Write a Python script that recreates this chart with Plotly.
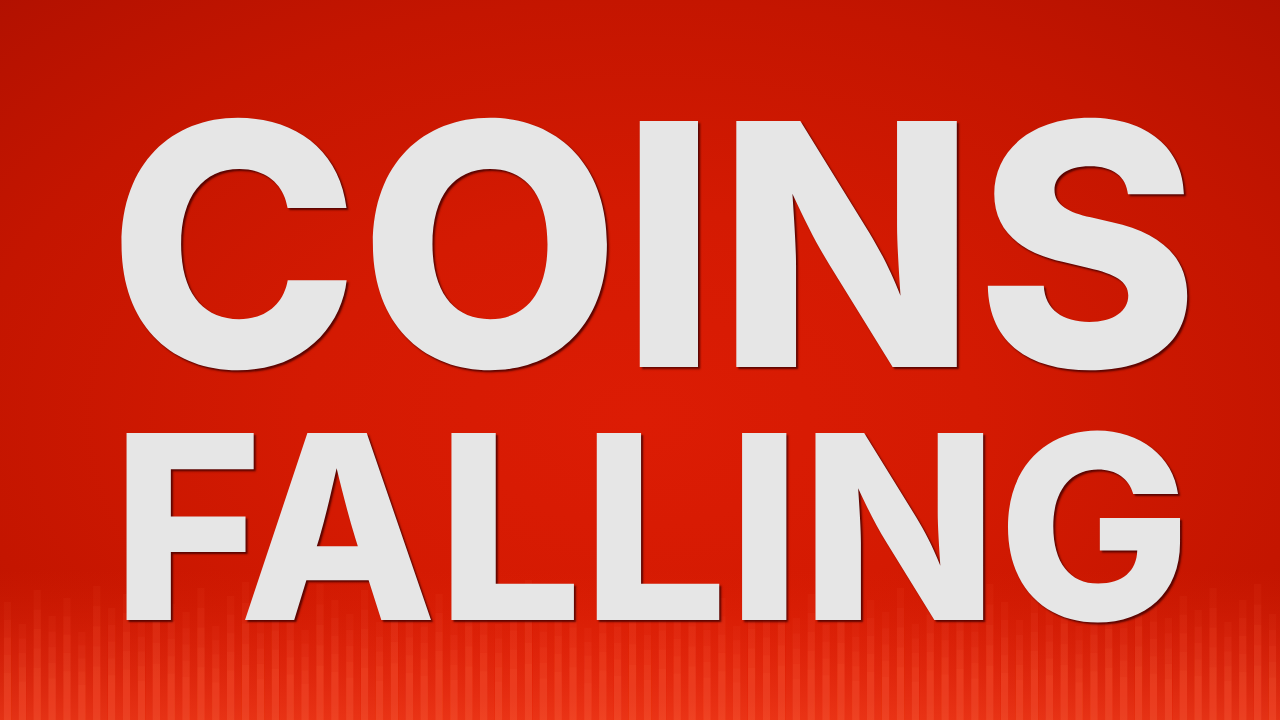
import plotly.graph_objects as go

# ---- data ----
title_lines = ["COINS", "FALLING"]
# heights (px from bottom) of the vertical light streaks along the bottom edge, left to right
stripe_heights = [118, 96, 130, 104, 122, 88, 134, 112, 126, 98, 140, 116,
                  108, 132, 94, 124, 138, 102, 128, 114, 90, 136, 120, 106,
                  130, 98, 142, 118, 110, 126, 100, 134, 122, 96, 128, 140,
                  104, 120, 132, 92, 124, 110, 138, 100, 128, 116, 134, 106,
                  122, 94, 130, 118, 136, 102, 126, 112, 140, 98, 120, 108,
                  132, 96, 124, 114, 128, 104, 136, 118, 100, 126, 112, 138,
                  94, 122, 130, 108, 134, 116, 102, 124, 110, 132, 98, 120,
                  136, 106]
stripe_index = list(range(len(stripe_heights)))

W, H = 1280, 720
fig = go.Figure()

# background: radial red glow (centre slightly below middle)
fig.add_trace(go.Scatter(
    x=[-320, W + 320, W + 320, -320, -320], y=[-300, -300, 900, 900, -300],
    mode="lines", line=dict(width=0), fill="toself",
    fillgradient=dict(type="radial",
                      colorscale=[[0, "#dc1c04"], [0.35, "#d41a02"], [0.7, "#c41500"],
                                  [1, "#b01000"]]),
    hoverinfo="skip", showlegend=False, xaxis="x", yaxis="y"))

# bottom warm glow
fig.add_trace(go.Scatter(
    x=[0, W, W, 0, 0], y=[0, 0, 150, 150, 0],
    mode="lines", line=dict(width=0), fill="toself",
    fillgradient=dict(type="vertical", start=0, stop=150,
                      colorscale=[[0, "rgba(255,70,35,0.6)"], [0.5, "rgba(250,55,25,0.3)"],
                                  [1, "rgba(230,40,10,0)"]]),
    hoverinfo="skip", showlegend=False, xaxis="x", yaxis="y"))

# streaks (overlaid subplot so they sit above the background fills)
for frac, alpha in [(1.0, 0.07), (0.85, 0.07), (0.7, 0.08), (0.55, 0.08), (0.4, 0.09)]:
    fig.add_trace(go.Bar(
        x=stripe_index, y=[h * frac for h in stripe_heights],
        marker=dict(color=f"rgba(255,105,65,{alpha})", line=dict(width=0)),
        width=0.5, hoverinfo="skip", showlegend=False,
        xaxis="x2", yaxis="y2"))

fig.update_layout(
    width=W, height=H,
    margin=dict(l=0, r=0, t=0, b=0),
    paper_bgcolor="#c41400", plot_bgcolor="rgba(0,0,0,0)",
    barmode="overlay",
    xaxis=dict(range=[0, W], visible=False, fixedrange=True),
    yaxis=dict(range=[0, H], visible=False, fixedrange=True),
    xaxis2=dict(range=[-0.5, len(stripe_heights) - 0.5], overlaying="x",
                visible=False, fixedrange=True),
    yaxis2=dict(range=[0, H], overlaying="y", visible=False, fixedrange=True),
)

shadow = "2px 2px 2px rgba(70,0,0,0.85)"
fig.add_annotation(text=title_lines[0], xref="paper", yref="paper",
                   x=(115 + 1192) / 2 / W, y=1 - 244 / 720, xanchor="center", yanchor="middle",
                   showarrow=False,
                   font=dict(family="Inter", size=338, weight=800,
                             color="#e6e6e6", shadow=shadow))
fig.add_annotation(text=title_lines[1], xref="paper", yref="paper",
                   x=(115 + 1187) / 2 / W, y=1 - 526 / 720, xanchor="center", yanchor="middle",
                   showarrow=False,
                   font=dict(family="Inter", size=257, weight=800,
                             color="#e6e6e6", shadow=shadow))

fig.write_html("out.html", config={"displayModeBar": False},
               post_script="document.body.style.margin='0';document.body.style.overflow='hidden';")
